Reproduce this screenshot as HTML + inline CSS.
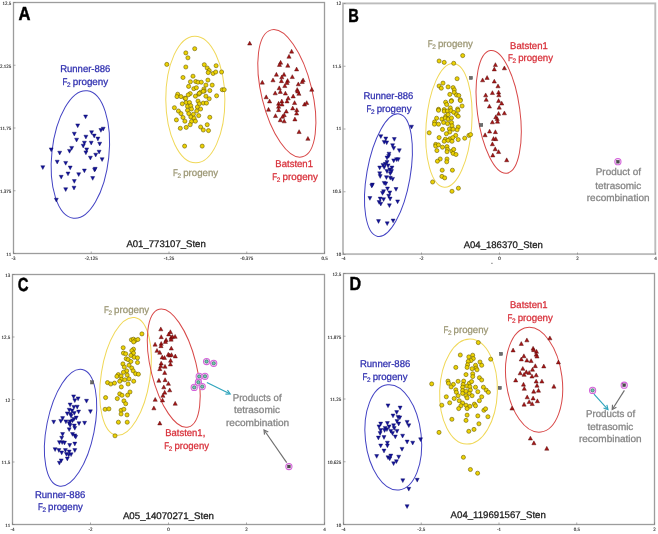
<!DOCTYPE html>
<html><head><meta charset="utf-8"><style>
html,body{margin:0;padding:0;background:#fff;}
svg{display:block;will-change:transform;}
text{text-rendering:geometricPrecision;}
</style></head><body>
<svg width="658" height="534" viewBox="0 0 658 534">
<rect width="658" height="534" fill="#fff"/>
<rect x="13.5" y="2.5" width="311" height="251" fill="none" stroke="#9c9c9c" stroke-width="1.3"/>
<rect x="343.0" y="3.4" width="312.3" height="250.7" fill="none" stroke="#bcbcbc" stroke-width="1.9"/>
<rect x="12.5" y="274.5" width="312" height="250" fill="none" stroke="#9c9c9c" stroke-width="1.3"/>
<rect x="343.5" y="273.5" width="311" height="251" fill="none" stroke="#9c9c9c" stroke-width="1.3"/>
<line x1="13.50" y1="253.5" x2="13.50" y2="251.5" stroke="#777" stroke-width="0.6"/>
<text x="13.50" y="260.10" font-family="Liberation Serif, serif" font-size="5.0" fill="#333" stroke="#333" stroke-width="0.15" text-anchor="middle">-3</text>
<line x1="91.25" y1="253.5" x2="91.25" y2="251.5" stroke="#777" stroke-width="0.6"/>
<text x="91.25" y="260.10" font-family="Liberation Serif, serif" font-size="5.0" fill="#333" stroke="#333" stroke-width="0.15" text-anchor="middle">-2.125</text>
<line x1="169.00" y1="253.5" x2="169.00" y2="251.5" stroke="#777" stroke-width="0.6"/>
<text x="169.00" y="260.10" font-family="Liberation Serif, serif" font-size="5.0" fill="#333" stroke="#333" stroke-width="0.15" text-anchor="middle">-1.25</text>
<line x1="246.75" y1="253.5" x2="246.75" y2="251.5" stroke="#777" stroke-width="0.6"/>
<text x="246.75" y="260.10" font-family="Liberation Serif, serif" font-size="5.0" fill="#333" stroke="#333" stroke-width="0.15" text-anchor="middle">-0.375</text>
<line x1="324.50" y1="253.5" x2="324.50" y2="251.5" stroke="#777" stroke-width="0.6"/>
<text x="324.50" y="260.10" font-family="Liberation Serif, serif" font-size="5.0" fill="#333" stroke="#333" stroke-width="0.15" text-anchor="middle">0.5</text>
<line x1="13.5" y1="2.50" x2="15.5" y2="2.50" stroke="#777" stroke-width="0.6"/>
<text x="11.2" y="4.80" font-family="Liberation Serif, serif" font-size="5.0" fill="#333" stroke="#333" stroke-width="0.15" text-anchor="end">12.5</text>
<line x1="13.5" y1="65.25" x2="15.5" y2="65.25" stroke="#777" stroke-width="0.6"/>
<text x="11.2" y="67.55" font-family="Liberation Serif, serif" font-size="5.0" fill="#333" stroke="#333" stroke-width="0.15" text-anchor="end">12.125</text>
<line x1="13.5" y1="128.00" x2="15.5" y2="128.00" stroke="#777" stroke-width="0.6"/>
<text x="11.2" y="130.30" font-family="Liberation Serif, serif" font-size="5.0" fill="#333" stroke="#333" stroke-width="0.15" text-anchor="end">11.75</text>
<line x1="13.5" y1="190.75" x2="15.5" y2="190.75" stroke="#777" stroke-width="0.6"/>
<text x="11.2" y="193.05" font-family="Liberation Serif, serif" font-size="5.0" fill="#333" stroke="#333" stroke-width="0.15" text-anchor="end">11.375</text>
<line x1="13.5" y1="253.50" x2="15.5" y2="253.50" stroke="#777" stroke-width="0.6"/>
<text x="11.2" y="255.80" font-family="Liberation Serif, serif" font-size="5.0" fill="#333" stroke="#333" stroke-width="0.15" text-anchor="end">11</text>
<line x1="343.50" y1="254.5" x2="343.50" y2="252.5" stroke="#777" stroke-width="0.6"/>
<text x="343.50" y="260.20" font-family="Liberation Serif, serif" font-size="5.0" fill="#333" stroke="#333" stroke-width="0.15" text-anchor="middle">-4</text>
<line x1="421.50" y1="254.5" x2="421.50" y2="252.5" stroke="#777" stroke-width="0.6"/>
<text x="421.50" y="260.20" font-family="Liberation Serif, serif" font-size="5.0" fill="#333" stroke="#333" stroke-width="0.15" text-anchor="middle">-2</text>
<line x1="499.50" y1="254.5" x2="499.50" y2="252.5" stroke="#777" stroke-width="0.6"/>
<text x="499.50" y="260.20" font-family="Liberation Serif, serif" font-size="5.0" fill="#333" stroke="#333" stroke-width="0.15" text-anchor="middle">0</text>
<line x1="577.50" y1="254.5" x2="577.50" y2="252.5" stroke="#777" stroke-width="0.6"/>
<text x="577.50" y="260.20" font-family="Liberation Serif, serif" font-size="5.0" fill="#333" stroke="#333" stroke-width="0.15" text-anchor="middle">2</text>
<line x1="655.50" y1="254.5" x2="655.50" y2="252.5" stroke="#777" stroke-width="0.6"/>
<text x="655.50" y="260.20" font-family="Liberation Serif, serif" font-size="5.0" fill="#333" stroke="#333" stroke-width="0.15" text-anchor="middle">4</text>
<line x1="343.5" y1="3.50" x2="345.5" y2="3.50" stroke="#777" stroke-width="0.6"/>
<text x="341.2" y="4.90" font-family="Liberation Serif, serif" font-size="5.0" fill="#333" stroke="#333" stroke-width="0.15" text-anchor="end">12</text>
<line x1="343.5" y1="66.25" x2="345.5" y2="66.25" stroke="#777" stroke-width="0.6"/>
<text x="341.2" y="67.65" font-family="Liberation Serif, serif" font-size="5.0" fill="#333" stroke="#333" stroke-width="0.15" text-anchor="end">11.5</text>
<line x1="343.5" y1="129.00" x2="345.5" y2="129.00" stroke="#777" stroke-width="0.6"/>
<text x="341.2" y="130.40" font-family="Liberation Serif, serif" font-size="5.0" fill="#333" stroke="#333" stroke-width="0.15" text-anchor="end">11</text>
<line x1="343.5" y1="191.75" x2="345.5" y2="191.75" stroke="#777" stroke-width="0.6"/>
<text x="341.2" y="193.15" font-family="Liberation Serif, serif" font-size="5.0" fill="#333" stroke="#333" stroke-width="0.15" text-anchor="end">10.5</text>
<line x1="343.5" y1="254.50" x2="345.5" y2="254.50" stroke="#777" stroke-width="0.6"/>
<text x="341.2" y="255.90" font-family="Liberation Serif, serif" font-size="5.0" fill="#333" stroke="#333" stroke-width="0.15" text-anchor="end">10</text>
<line x1="12.50" y1="524.5" x2="12.50" y2="522.5" stroke="#777" stroke-width="0.6"/>
<text x="12.50" y="531.10" font-family="Liberation Serif, serif" font-size="5.0" fill="#333" stroke="#333" stroke-width="0.15" text-anchor="middle">-4</text>
<line x1="90.50" y1="524.5" x2="90.50" y2="522.5" stroke="#777" stroke-width="0.6"/>
<text x="90.50" y="531.10" font-family="Liberation Serif, serif" font-size="5.0" fill="#333" stroke="#333" stroke-width="0.15" text-anchor="middle">-2</text>
<line x1="168.50" y1="524.5" x2="168.50" y2="522.5" stroke="#777" stroke-width="0.6"/>
<text x="168.50" y="531.10" font-family="Liberation Serif, serif" font-size="5.0" fill="#333" stroke="#333" stroke-width="0.15" text-anchor="middle">0</text>
<line x1="246.50" y1="524.5" x2="246.50" y2="522.5" stroke="#777" stroke-width="0.6"/>
<text x="246.50" y="531.10" font-family="Liberation Serif, serif" font-size="5.0" fill="#333" stroke="#333" stroke-width="0.15" text-anchor="middle">2</text>
<line x1="324.50" y1="524.5" x2="324.50" y2="522.5" stroke="#777" stroke-width="0.6"/>
<text x="324.50" y="531.10" font-family="Liberation Serif, serif" font-size="5.0" fill="#333" stroke="#333" stroke-width="0.15" text-anchor="middle">4</text>
<line x1="12.5" y1="274.50" x2="14.5" y2="274.50" stroke="#777" stroke-width="0.6"/>
<text x="10.2" y="276.80" font-family="Liberation Serif, serif" font-size="5.0" fill="#333" stroke="#333" stroke-width="0.15" text-anchor="end">13</text>
<line x1="12.5" y1="337.00" x2="14.5" y2="337.00" stroke="#777" stroke-width="0.6"/>
<text x="10.2" y="339.30" font-family="Liberation Serif, serif" font-size="5.0" fill="#333" stroke="#333" stroke-width="0.15" text-anchor="end">12.5</text>
<line x1="12.5" y1="399.50" x2="14.5" y2="399.50" stroke="#777" stroke-width="0.6"/>
<text x="10.2" y="401.80" font-family="Liberation Serif, serif" font-size="5.0" fill="#333" stroke="#333" stroke-width="0.15" text-anchor="end">12</text>
<line x1="12.5" y1="462.00" x2="14.5" y2="462.00" stroke="#777" stroke-width="0.6"/>
<text x="10.2" y="464.30" font-family="Liberation Serif, serif" font-size="5.0" fill="#333" stroke="#333" stroke-width="0.15" text-anchor="end">11.5</text>
<line x1="12.5" y1="524.50" x2="14.5" y2="524.50" stroke="#777" stroke-width="0.6"/>
<text x="10.2" y="526.80" font-family="Liberation Serif, serif" font-size="5.0" fill="#333" stroke="#333" stroke-width="0.15" text-anchor="end">11</text>
<line x1="343.50" y1="524.5" x2="343.50" y2="522.5" stroke="#777" stroke-width="0.6"/>
<text x="343.50" y="531.10" font-family="Liberation Serif, serif" font-size="5.0" fill="#333" stroke="#333" stroke-width="0.15" text-anchor="middle">-4</text>
<line x1="421.25" y1="524.5" x2="421.25" y2="522.5" stroke="#777" stroke-width="0.6"/>
<text x="421.25" y="531.10" font-family="Liberation Serif, serif" font-size="5.0" fill="#333" stroke="#333" stroke-width="0.15" text-anchor="middle">-2.5</text>
<line x1="499.00" y1="524.5" x2="499.00" y2="522.5" stroke="#777" stroke-width="0.6"/>
<text x="499.00" y="531.10" font-family="Liberation Serif, serif" font-size="5.0" fill="#333" stroke="#333" stroke-width="0.15" text-anchor="middle">-1</text>
<line x1="576.75" y1="524.5" x2="576.75" y2="522.5" stroke="#777" stroke-width="0.6"/>
<text x="576.75" y="531.10" font-family="Liberation Serif, serif" font-size="5.0" fill="#333" stroke="#333" stroke-width="0.15" text-anchor="middle">0.5</text>
<line x1="654.50" y1="524.5" x2="654.50" y2="522.5" stroke="#777" stroke-width="0.6"/>
<text x="654.50" y="531.10" font-family="Liberation Serif, serif" font-size="5.0" fill="#333" stroke="#333" stroke-width="0.15" text-anchor="middle">2</text>
<line x1="343.5" y1="273.50" x2="345.5" y2="273.50" stroke="#777" stroke-width="0.6"/>
<text x="341.2" y="275.80" font-family="Liberation Serif, serif" font-size="5.0" fill="#333" stroke="#333" stroke-width="0.15" text-anchor="end">12.5</text>
<line x1="343.5" y1="336.25" x2="345.5" y2="336.25" stroke="#777" stroke-width="0.6"/>
<text x="341.2" y="338.55" font-family="Liberation Serif, serif" font-size="5.0" fill="#333" stroke="#333" stroke-width="0.15" text-anchor="end">11.875</text>
<line x1="343.5" y1="399.00" x2="345.5" y2="399.00" stroke="#777" stroke-width="0.6"/>
<text x="341.2" y="401.30" font-family="Liberation Serif, serif" font-size="5.0" fill="#333" stroke="#333" stroke-width="0.15" text-anchor="end">11.25</text>
<line x1="343.5" y1="461.75" x2="345.5" y2="461.75" stroke="#777" stroke-width="0.6"/>
<text x="341.2" y="464.05" font-family="Liberation Serif, serif" font-size="5.0" fill="#333" stroke="#333" stroke-width="0.15" text-anchor="end">10.625</text>
<line x1="343.5" y1="524.50" x2="345.5" y2="524.50" stroke="#777" stroke-width="0.6"/>
<text x="341.2" y="526.80" font-family="Liberation Serif, serif" font-size="5.0" fill="#333" stroke="#333" stroke-width="0.15" text-anchor="end">10</text>
<line x1="491" y1="263.3" x2="492.8" y2="263.3" stroke="#777" stroke-width="0.8"/>
<ellipse cx="80.35" cy="154.55" rx="64.05" ry="28.54" transform="rotate(-83.84 80.35 154.55)" fill="none" stroke="#4343c4" stroke-width="1.0"/>
<ellipse cx="195.33" cy="99.50" rx="63.30" ry="29.55" transform="rotate(-90.46 195.33 99.50)" fill="none" stroke="#f0d858" stroke-width="1.0"/>
<ellipse cx="286.85" cy="93.35" rx="65.34" ry="25.27" transform="rotate(-103.75 286.85 93.35)" fill="none" stroke="#d84848" stroke-width="1.0"/>
<ellipse cx="388.45" cy="175.15" rx="62.18" ry="21.71" transform="rotate(-80.01 388.45 175.15)" fill="none" stroke="#4343c4" stroke-width="1.0"/>
<ellipse cx="448.90" cy="125.30" rx="62.05" ry="22.80" transform="rotate(-85.72 448.90 125.30)" fill="none" stroke="#f0d858" stroke-width="1.0"/>
<ellipse cx="498.67" cy="111.85" rx="61.83" ry="21.24" transform="rotate(-97.65 498.67 111.85)" fill="none" stroke="#d84848" stroke-width="1.0"/>
<ellipse cx="70.55" cy="427.70" rx="59.47" ry="23.87" transform="rotate(-78.69 70.55 427.70)" fill="none" stroke="#4343c4" stroke-width="1.0"/>
<ellipse cx="125.55" cy="376.35" rx="59.54" ry="24.41" transform="rotate(-81.16 125.55 376.35)" fill="none" stroke="#f0d858" stroke-width="1.0"/>
<ellipse cx="173.75" cy="368.15" rx="60.67" ry="22.75" transform="rotate(-103.88 173.75 368.15)" fill="none" stroke="#d84848" stroke-width="1.0"/>
<ellipse cx="393.27" cy="437.35" rx="52.88" ry="27.97" transform="rotate(-96.27 393.27 437.35)" fill="none" stroke="#4343c4" stroke-width="1.0"/>
<ellipse cx="468.52" cy="391.55" rx="52.57" ry="28.85" transform="rotate(-87.89 468.52 391.55)" fill="none" stroke="#f0d858" stroke-width="1.0"/>
<ellipse cx="534.10" cy="379.75" rx="52.77" ry="28.01" transform="rotate(-97.45 534.10 379.75)" fill="none" stroke="#d84848" stroke-width="1.0"/>
<g fill="#ecd204" stroke="#6a5c00" stroke-width="0.6"><circle cx="141.9" cy="333.9" r="2.05"/><circle cx="131.4" cy="339.8" r="2.05"/><circle cx="133.5" cy="339.2" r="2.05"/><circle cx="135.4" cy="340.4" r="2.05"/><circle cx="137.9" cy="339.5" r="2.05"/><circle cx="133.7" cy="341.9" r="2.05"/><circle cx="123.2" cy="347.7" r="2.05"/><circle cx="133.5" cy="349.2" r="2.05"/><circle cx="131.8" cy="350.7" r="2.05"/><circle cx="123.4" cy="353.1" r="2.05"/><circle cx="125.7" cy="353.8" r="2.05"/><circle cx="133.5" cy="353.1" r="2.05"/><circle cx="130.9" cy="355.4" r="2.05"/><circle cx="134.2" cy="357.3" r="2.05"/><circle cx="137.5" cy="357.8" r="2.05"/><circle cx="126.2" cy="358.7" r="2.05"/><circle cx="128.1" cy="359.6" r="2.05"/><circle cx="137.5" cy="362.5" r="2.05"/><circle cx="130.9" cy="361.5" r="2.05"/><circle cx="122.9" cy="363.9" r="2.05"/><circle cx="129" cy="365.3" r="2.05"/><circle cx="124.3" cy="367.1" r="2.05"/><circle cx="131.8" cy="368.1" r="2.05"/><circle cx="126.7" cy="370.9" r="2.05"/><circle cx="133.2" cy="370.9" r="2.05"/><circle cx="123.4" cy="372.3" r="2.05"/><circle cx="118.3" cy="374.6" r="2.05"/><circle cx="135.6" cy="373.7" r="2.05"/><circle cx="138.4" cy="374.2" r="2.05"/><circle cx="116.9" cy="376.4" r="2.05"/><circle cx="121.1" cy="376.1" r="2.05"/><circle cx="127.2" cy="375.1" r="2.05"/><circle cx="121.5" cy="379.4" r="2.05"/><circle cx="124.8" cy="379.8" r="2.05"/><circle cx="129" cy="378.9" r="2.05"/><circle cx="119.7" cy="381.2" r="2.05"/><circle cx="133.7" cy="381.2" r="2.05"/><circle cx="107.5" cy="382.6" r="2.05"/><circle cx="110.8" cy="384" r="2.05"/><circle cx="114.5" cy="383.1" r="2.05"/><circle cx="128.1" cy="384" r="2.05"/><circle cx="121.3" cy="386.9" r="2.05"/><circle cx="119.7" cy="393.9" r="2.05"/><circle cx="122" cy="395.3" r="2.05"/><circle cx="130" cy="392" r="2.05"/><circle cx="127.6" cy="395.1" r="2.05"/><circle cx="105.6" cy="397.6" r="2.05"/><circle cx="117.3" cy="398.6" r="2.05"/><circle cx="123.9" cy="400.9" r="2.05"/><circle cx="125.7" cy="403.7" r="2.05"/><circle cx="105.1" cy="409.3" r="2.05"/><circle cx="108.9" cy="408.9" r="2.05"/><circle cx="121.1" cy="410.3" r="2.05"/><circle cx="123.9" cy="409.3" r="2.05"/><circle cx="121.1" cy="414" r="2.05"/><circle cx="127" cy="414.9" r="2.05"/><circle cx="118.4" cy="422.2" r="2.05"/><circle cx="127.2" cy="422.2" r="2.05"/><circle cx="115" cy="435.8" r="2.05"/></g>
<g fill="#ecd204" stroke="#6a5c00" stroke-width="0.6"><circle cx="194.7" cy="48.7" r="2.05"/><circle cx="185.8" cy="52.9" r="2.05"/><circle cx="187.9" cy="57.8" r="2.05"/><circle cx="166.8" cy="64.4" r="2.05"/><circle cx="185.8" cy="67" r="2.05"/><circle cx="204.3" cy="64.7" r="2.05"/><circle cx="207.2" cy="68" r="2.05"/><circle cx="209.2" cy="70.6" r="2.05"/><circle cx="208.2" cy="72.6" r="2.05"/><circle cx="213.1" cy="73.5" r="2.05"/><circle cx="215.7" cy="72" r="2.05"/><circle cx="216.1" cy="65.7" r="2.05"/><circle cx="221.6" cy="72" r="2.05"/><circle cx="183" cy="77.5" r="2.05"/><circle cx="193" cy="76.2" r="2.05"/><circle cx="207.9" cy="80.1" r="2.05"/><circle cx="190.4" cy="81.8" r="2.05"/><circle cx="195.7" cy="81.5" r="2.05"/><circle cx="198" cy="82.2" r="2.05"/><circle cx="201.3" cy="82.2" r="2.05"/><circle cx="205.9" cy="85.1" r="2.05"/><circle cx="212.2" cy="85.1" r="2.05"/><circle cx="188.6" cy="86.4" r="2.05"/><circle cx="193.8" cy="88.7" r="2.05"/><circle cx="196.4" cy="87.7" r="2.05"/><circle cx="203.9" cy="89" r="2.05"/><circle cx="204.3" cy="91" r="2.05"/><circle cx="209.8" cy="90.6" r="2.05"/><circle cx="222.3" cy="89.7" r="2.05"/><circle cx="224.2" cy="89.7" r="2.05"/><circle cx="200.6" cy="92.3" r="2.05"/><circle cx="198.7" cy="94.2" r="2.05"/><circle cx="190.2" cy="93.6" r="2.05"/><circle cx="188.2" cy="94.9" r="2.05"/><circle cx="177.7" cy="94.2" r="2.05"/><circle cx="177" cy="96.6" r="2.05"/><circle cx="181" cy="96.6" r="2.05"/><circle cx="184.9" cy="98.2" r="2.05"/><circle cx="195.4" cy="96.2" r="2.05"/><circle cx="205.9" cy="96.2" r="2.05"/><circle cx="216.6" cy="95.8" r="2.05"/><circle cx="209.2" cy="98.8" r="2.05"/><circle cx="185.6" cy="98.5" r="2.05"/><circle cx="199.3" cy="93.3" r="2.05"/><circle cx="203.3" cy="91.3" r="2.05"/><circle cx="182.3" cy="103.8" r="2.05"/><circle cx="186.2" cy="102.5" r="2.05"/><circle cx="189.5" cy="102.5" r="2.05"/><circle cx="187.5" cy="106.4" r="2.05"/><circle cx="190.8" cy="105.7" r="2.05"/><circle cx="191.5" cy="109" r="2.05"/><circle cx="187.5" cy="110.3" r="2.05"/><circle cx="198" cy="101.1" r="2.05"/><circle cx="199.3" cy="103.8" r="2.05"/><circle cx="203.3" cy="103.1" r="2.05"/><circle cx="206.5" cy="103.1" r="2.05"/><circle cx="197.4" cy="107" r="2.05"/><circle cx="200.6" cy="109" r="2.05"/><circle cx="196.7" cy="111" r="2.05"/><circle cx="174.4" cy="107.7" r="2.05"/><circle cx="178.4" cy="111" r="2.05"/><circle cx="181" cy="113.6" r="2.05"/><circle cx="188.8" cy="113.6" r="2.05"/><circle cx="193.4" cy="114.3" r="2.05"/><circle cx="198.7" cy="115.6" r="2.05"/><circle cx="183" cy="117.5" r="2.05"/><circle cx="190.8" cy="116.9" r="2.05"/><circle cx="194.1" cy="118.2" r="2.05"/><circle cx="176.4" cy="119.9" r="2.05"/><circle cx="184.9" cy="121.2" r="2.05"/><circle cx="191.5" cy="121.5" r="2.05"/><circle cx="195.4" cy="121.2" r="2.05"/><circle cx="209.8" cy="117.3" r="2.05"/><circle cx="190.2" cy="124.7" r="2.05"/><circle cx="180.3" cy="128.3" r="2.05"/><circle cx="186.2" cy="127.4" r="2.05"/><circle cx="200.6" cy="127" r="2.05"/><circle cx="203.3" cy="130" r="2.05"/><circle cx="207.2" cy="124.7" r="2.05"/><circle cx="208.5" cy="130.6" r="2.05"/><circle cx="184.6" cy="146.1" r="2.05"/><circle cx="202.2" cy="146.1" r="2.05"/></g>
<g fill="#ecd204" stroke="#6a5c00" stroke-width="0.6"><circle cx="462.7" cy="55.6" r="2.05"/><circle cx="439.1" cy="61" r="2.05"/><circle cx="444.2" cy="62.4" r="2.05"/><circle cx="453.7" cy="63.3" r="2.05"/><circle cx="457.1" cy="78.7" r="2.05"/><circle cx="443" cy="83.1" r="2.05"/><circle cx="439.1" cy="86" r="2.05"/><circle cx="441.3" cy="88.2" r="2.05"/><circle cx="448.1" cy="86.9" r="2.05"/><circle cx="453.1" cy="87.6" r="2.05"/><circle cx="454.3" cy="89.9" r="2.05"/><circle cx="454.3" cy="92.5" r="2.05"/><circle cx="456.5" cy="95" r="2.05"/><circle cx="458.8" cy="95.5" r="2.05"/><circle cx="449.8" cy="94.4" r="2.05"/><circle cx="460.2" cy="99.7" r="2.05"/><circle cx="451.5" cy="100.6" r="2.05"/><circle cx="445.6" cy="102.2" r="2.05"/><circle cx="446.7" cy="104.5" r="2.05"/><circle cx="462.1" cy="106" r="2.05"/><circle cx="450.3" cy="107.9" r="2.05"/><circle cx="438.5" cy="109.3" r="2.05"/><circle cx="457.6" cy="109" r="2.05"/><circle cx="444.2" cy="109.6" r="2.05"/><circle cx="451.2" cy="101.3" r="2.05"/><circle cx="460.4" cy="100.6" r="2.05"/><circle cx="438.5" cy="110.3" r="2.05"/><circle cx="444.2" cy="111.2" r="2.05"/><circle cx="447.5" cy="111" r="2.05"/><circle cx="450.9" cy="110.7" r="2.05"/><circle cx="453.7" cy="112.4" r="2.05"/><circle cx="458" cy="110.3" r="2.05"/><circle cx="456.5" cy="114.6" r="2.05"/><circle cx="458.2" cy="116.3" r="2.05"/><circle cx="445.8" cy="116.3" r="2.05"/><circle cx="448.1" cy="114.6" r="2.05"/><circle cx="436.6" cy="118.2" r="2.05"/><circle cx="441.9" cy="119.1" r="2.05"/><circle cx="445.3" cy="118" r="2.05"/><circle cx="448.1" cy="119.1" r="2.05"/><circle cx="451.5" cy="118" r="2.05"/><circle cx="434.6" cy="121.9" r="2.05"/><circle cx="434.4" cy="124.2" r="2.05"/><circle cx="438.5" cy="124.2" r="2.05"/><circle cx="443.6" cy="122.5" r="2.05"/><circle cx="447.5" cy="123.6" r="2.05"/><circle cx="451.5" cy="122.5" r="2.05"/><circle cx="452" cy="125.8" r="2.05"/><circle cx="458.2" cy="127" r="2.05"/><circle cx="457.1" cy="129.8" r="2.05"/><circle cx="442.5" cy="129.4" r="2.05"/><circle cx="449.4" cy="129" r="2.05"/><circle cx="453.1" cy="129.2" r="2.05"/><circle cx="449.8" cy="132" r="2.05"/><circle cx="429.2" cy="132.8" r="2.05"/><circle cx="446.4" cy="133.7" r="2.05"/><circle cx="455.7" cy="135.4" r="2.05"/><circle cx="439.1" cy="137.6" r="2.05"/><circle cx="445.3" cy="139.3" r="2.05"/><circle cx="449.8" cy="138.8" r="2.05"/><circle cx="452.8" cy="137.6" r="2.05"/><circle cx="444.2" cy="141.3" r="2.05"/><circle cx="448.1" cy="140.4" r="2.05"/><circle cx="452" cy="141.3" r="2.05"/><circle cx="458.2" cy="139.6" r="2.05"/><circle cx="464.7" cy="138.2" r="2.05"/><circle cx="468.9" cy="135.4" r="2.05"/><circle cx="470.6" cy="134.6" r="2.05"/><circle cx="435.7" cy="144.4" r="2.05"/><circle cx="435.7" cy="146.1" r="2.05"/><circle cx="438.5" cy="144.9" r="2.05"/><circle cx="442.5" cy="147.2" r="2.05"/><circle cx="447" cy="146.6" r="2.05"/><circle cx="447.5" cy="149.4" r="2.05"/><circle cx="436.9" cy="150.6" r="2.05"/><circle cx="452" cy="151.1" r="2.05"/><circle cx="453.7" cy="149.4" r="2.05"/><circle cx="447" cy="151.7" r="2.05"/><circle cx="453.1" cy="153.4" r="2.05"/><circle cx="456" cy="154.5" r="2.05"/><circle cx="440.2" cy="159" r="2.05"/><circle cx="447" cy="159" r="2.05"/><circle cx="437.4" cy="161.2" r="2.05"/><circle cx="446.7" cy="161.8" r="2.05"/><circle cx="442.2" cy="170.2" r="2.05"/><circle cx="452.4" cy="170.2" r="2.05"/><circle cx="441.9" cy="176.4" r="2.05"/><circle cx="444.7" cy="177.9" r="2.05"/><circle cx="432.6" cy="182" r="2.05"/><circle cx="452" cy="191.3" r="2.05"/><circle cx="458.4" cy="188.2" r="2.05"/></g>
<g fill="#ecd204" stroke="#6a5c00" stroke-width="0.6"><circle cx="478.3" cy="342.6" r="2.05"/><circle cx="460.3" cy="355" r="2.05"/><circle cx="468.8" cy="356.9" r="2.05"/><circle cx="472.7" cy="355.2" r="2.05"/><circle cx="473.3" cy="358.6" r="2.05"/><circle cx="471" cy="360.6" r="2.05"/><circle cx="468.2" cy="361.4" r="2.05"/><circle cx="490.7" cy="359.2" r="2.05"/><circle cx="480" cy="362" r="2.05"/><circle cx="481.7" cy="365.3" r="2.05"/><circle cx="467.6" cy="364.8" r="2.05"/><circle cx="467.1" cy="367.4" r="2.05"/><circle cx="475.5" cy="365.3" r="2.05"/><circle cx="476.1" cy="368.1" r="2.05"/><circle cx="472.1" cy="368.7" r="2.05"/><circle cx="477" cy="369.8" r="2.05"/><circle cx="455.8" cy="367.4" r="2.05"/><circle cx="466" cy="374.6" r="2.05"/><circle cx="472.7" cy="373.8" r="2.05"/><circle cx="472.7" cy="376.6" r="2.05"/><circle cx="479.4" cy="377.7" r="2.05"/><circle cx="481.7" cy="380" r="2.05"/><circle cx="431.7" cy="383.9" r="2.05"/><circle cx="448" cy="381.1" r="2.05"/><circle cx="448.5" cy="383.3" r="2.05"/><circle cx="453.4" cy="384.4" r="2.05"/><circle cx="451.1" cy="386.9" r="2.05"/><circle cx="458.1" cy="381.3" r="2.05"/><circle cx="463.7" cy="381.1" r="2.05"/><circle cx="463.1" cy="384.4" r="2.05"/><circle cx="469.3" cy="383.3" r="2.05"/><circle cx="471.6" cy="381.6" r="2.05"/><circle cx="467.1" cy="386.1" r="2.05"/><circle cx="462.6" cy="387.2" r="2.05"/><circle cx="469.9" cy="386.7" r="2.05"/><circle cx="475.5" cy="387.2" r="2.05"/><circle cx="483.4" cy="387.2" r="2.05"/><circle cx="486.2" cy="390.1" r="2.05"/><circle cx="488.4" cy="392.3" r="2.05"/><circle cx="455.8" cy="389.8" r="2.05"/><circle cx="456.4" cy="392.3" r="2.05"/><circle cx="462.6" cy="390.6" r="2.05"/><circle cx="466" cy="391.2" r="2.05"/><circle cx="470.4" cy="390.1" r="2.05"/><circle cx="477.8" cy="391.7" r="2.05"/><circle cx="462.6" cy="393.4" r="2.05"/><circle cx="469.3" cy="393.4" r="2.05"/><circle cx="446.3" cy="396.8" r="2.05"/><circle cx="454.2" cy="398.5" r="2.05"/><circle cx="458.1" cy="395.7" r="2.05"/><circle cx="466" cy="395.7" r="2.05"/><circle cx="472.1" cy="395.7" r="2.05"/><circle cx="467.1" cy="397.9" r="2.05"/><circle cx="481.7" cy="396.8" r="2.05"/><circle cx="479.4" cy="400.7" r="2.05"/><circle cx="449.7" cy="402.8" r="2.05"/><circle cx="459.2" cy="400.7" r="2.05"/><circle cx="462.6" cy="403" r="2.05"/><circle cx="441.8" cy="405.2" r="2.05"/><circle cx="460.9" cy="405.8" r="2.05"/><circle cx="466" cy="405.2" r="2.05"/><circle cx="469.9" cy="406.3" r="2.05"/><circle cx="474.4" cy="404.1" r="2.05"/><circle cx="475.5" cy="405.8" r="2.05"/><circle cx="458.7" cy="408.6" r="2.05"/><circle cx="467.1" cy="408.6" r="2.05"/><circle cx="483.9" cy="410.3" r="2.05"/><circle cx="485.6" cy="408.8" r="2.05"/><circle cx="467.1" cy="415.1" r="2.05"/><circle cx="477.8" cy="415.9" r="2.05"/><circle cx="487.9" cy="416.7" r="2.05"/><circle cx="451.9" cy="419.3" r="2.05"/><circle cx="466" cy="420.4" r="2.05"/><circle cx="478.9" cy="423.8" r="2.05"/><circle cx="468.8" cy="431.3" r="2.05"/><circle cx="474" cy="429.4" r="2.05"/><circle cx="439" cy="432.4" r="2.05"/><circle cx="463.4" cy="457.3" r="2.05"/><circle cx="470.4" cy="469.5" r="2.05"/><circle cx="477.6" cy="473.2" r="2.05"/></g>
<g fill="#13139a" stroke="#0a0a60" stroke-width="0.4"><path d="M83.60,115.00L87.60,115.00L85.60,118.80Z"/><path d="M75.70,123.90L79.70,123.90L77.70,127.70Z"/><path d="M72.30,132.20L76.30,132.20L74.30,136.00Z"/><path d="M74.60,138.20L78.60,138.20L76.60,142.00Z"/><path d="M83.90,135.20L87.90,135.20L85.90,139.00Z"/><path d="M89.60,130.70L93.60,130.70L91.60,134.50Z"/><path d="M92.20,134.10L96.20,134.10L94.20,137.90Z"/><path d="M98.90,128.50L102.90,128.50L100.90,132.30Z"/><path d="M101.20,127.20L105.20,127.20L103.20,131.00Z"/><path d="M95.90,137.10L99.90,137.10L97.90,140.90Z"/><path d="M89.20,141.20L93.20,141.20L91.20,145.00Z"/><path d="M82.40,141.20L86.40,141.20L84.40,145.00Z"/><path d="M81.20,144.20L85.20,144.20L83.20,148.00Z"/><path d="M97.70,142.20L101.70,142.20L99.70,146.00Z"/><path d="M84.70,147.90L88.70,147.90L86.70,151.70Z"/><path d="M83.90,150.90L87.90,150.90L85.90,154.70Z"/><path d="M69.70,146.40L73.70,146.40L71.70,150.20Z"/><path d="M67.50,149.40L71.50,149.40L69.50,153.20Z"/><path d="M57.70,151.20L61.70,151.20L59.70,155.00Z"/><path d="M49.20,147.90L53.20,147.90L51.20,151.70Z"/><path d="M97.10,150.20L101.10,150.20L99.10,154.00Z"/><path d="M93.70,153.20L97.70,153.20L95.70,157.00Z"/><path d="M88.40,156.20L92.40,156.20L90.40,160.00Z"/><path d="M100.10,157.70L104.10,157.70L102.10,161.50Z"/><path d="M55.20,160.20L59.20,160.20L57.20,164.00Z"/><path d="M63.70,161.40L67.70,161.40L65.70,165.20Z"/><path d="M40.80,165.70L44.80,165.70L42.80,169.50Z"/><path d="M68.20,166.00L72.20,166.00L70.20,169.80Z"/><path d="M66.00,172.00L70.00,172.00L68.00,175.80Z"/><path d="M59.20,175.30L63.20,175.30L61.20,179.10Z"/><path d="M76.70,172.70L80.70,172.70L78.70,176.50Z"/><path d="M82.40,169.00L86.40,169.00L84.40,172.80Z"/><path d="M92.60,168.20L96.60,168.20L94.60,172.00Z"/><path d="M93.20,167.30L97.20,167.30L95.20,171.10Z"/><path d="M90.70,176.50L94.70,176.50L92.70,180.30Z"/><path d="M72.30,179.50L76.30,179.50L74.30,183.30Z"/><path d="M63.70,187.70L67.70,187.70L65.70,191.50Z"/><path d="M72.00,186.20L76.00,186.20L74.00,190.00Z"/><path d="M54.30,198.20L58.30,198.20L56.30,202.00Z"/></g>
<g fill="#13139a" stroke="#0a0a60" stroke-width="0.4"><path d="M409.50,125.20L413.50,125.20L411.50,129.00Z"/><path d="M378.80,134.70L382.80,134.70L380.80,138.50Z"/><path d="M383.80,137.00L387.80,137.00L385.80,140.80Z"/><path d="M382.20,140.40L386.20,140.40L384.20,144.20Z"/><path d="M384.70,140.90L388.70,140.90L386.70,144.70Z"/><path d="M392.30,137.50L396.30,137.50L394.30,141.30Z"/><path d="M390.60,143.70L394.60,143.70L392.60,147.50Z"/><path d="M391.70,146.50L395.70,146.50L393.70,150.30Z"/><path d="M397.30,148.80L401.30,148.80L399.30,152.60Z"/><path d="M387.00,152.20L391.00,152.20L389.00,156.00Z"/><path d="M386.70,154.40L390.70,154.40L388.70,158.20Z"/><path d="M385.00,156.10L389.00,156.10L387.00,159.90Z"/><path d="M391.70,158.90L395.70,158.90L393.70,162.70Z"/><path d="M394.50,157.80L398.50,157.80L396.50,161.60Z"/><path d="M396.20,157.80L400.20,157.80L398.20,161.60Z"/><path d="M385.00,160.60L389.00,160.60L387.00,164.40Z"/><path d="M383.30,162.30L387.30,162.30L385.30,166.10Z"/><path d="M381.00,163.40L385.00,163.40L383.00,167.20Z"/><path d="M386.10,163.90L390.10,163.90L388.10,167.70Z"/><path d="M382.20,165.60L386.20,165.60L384.20,169.40Z"/><path d="M390.00,166.00L394.00,166.00L392.00,169.80Z"/><path d="M377.70,166.00L381.70,166.00L379.70,169.80Z"/><path d="M387.80,167.90L391.80,167.90L389.80,171.70Z"/><path d="M389.50,169.60L393.50,169.60L391.50,173.40Z"/><path d="M385.00,169.60L389.00,169.60L387.00,173.40Z"/><path d="M377.70,171.80L381.70,171.80L379.70,175.60Z"/><path d="M388.30,171.80L392.30,171.80L390.30,175.60Z"/><path d="M378.20,174.60L382.20,174.60L380.20,178.40Z"/><path d="M384.40,175.70L388.40,175.70L386.40,179.50Z"/><path d="M388.30,176.30L392.30,176.30L390.30,180.10Z"/><path d="M390.60,177.40L394.60,177.40L392.60,181.20Z"/><path d="M382.20,181.40L386.20,181.40L384.20,185.20Z"/><path d="M383.80,181.90L387.80,181.90L385.80,185.70Z"/><path d="M370.40,183.10L374.40,183.10L372.40,186.90Z"/><path d="M369.80,184.20L373.80,184.20L371.80,188.00Z"/><path d="M385.50,187.00L389.50,187.00L387.50,190.80Z"/><path d="M394.00,187.50L398.00,187.50L396.00,191.30Z"/><path d="M381.60,189.80L385.60,189.80L383.60,193.60Z"/><path d="M380.50,191.50L384.50,191.50L382.50,195.30Z"/><path d="M387.80,190.90L391.80,190.90L389.80,194.70Z"/><path d="M386.70,194.30L390.70,194.30L388.70,198.10Z"/><path d="M388.10,197.10L392.10,197.10L390.10,200.90Z"/><path d="M367.90,196.50L371.90,196.50L369.90,200.30Z"/><path d="M378.20,197.10L382.20,197.10L380.20,200.90Z"/><path d="M381.60,197.70L385.60,197.70L383.60,201.50Z"/><path d="M377.10,200.50L381.10,200.50L379.10,204.30Z"/><path d="M378.80,202.20L382.80,202.20L380.80,206.00Z"/><path d="M387.40,203.80L391.40,203.80L389.40,207.60Z"/><path d="M395.60,199.90L399.60,199.90L397.60,203.70Z"/><path d="M376.50,219.60L380.50,219.60L378.50,223.40Z"/><path d="M385.20,221.80L389.20,221.80L387.20,225.60Z"/><path d="M391.10,219.00L395.10,219.00L393.10,222.80Z"/></g>
<g fill="#13139a" stroke="#0a0a60" stroke-width="0.4"><path d="M71.60,394.90L75.60,394.90L73.60,398.70Z"/><path d="M76.10,396.90L80.10,396.90L78.10,400.70Z"/><path d="M72.80,398.80L76.80,398.80L74.80,402.60Z"/><path d="M84.50,399.30L88.50,399.30L86.50,403.10Z"/><path d="M68.10,403.00L72.10,403.00L70.10,406.80Z"/><path d="M71.90,405.40L75.90,405.40L73.90,409.20Z"/><path d="M75.20,405.20L79.20,405.20L77.20,409.00Z"/><path d="M67.20,408.20L71.20,408.20L69.20,412.00Z"/><path d="M70.00,409.10L74.00,409.10L72.00,412.90Z"/><path d="M76.60,410.00L80.60,410.00L78.60,413.80Z"/><path d="M88.40,409.80L92.40,409.80L90.40,413.60Z"/><path d="M65.30,411.90L69.30,411.90L67.30,415.70Z"/><path d="M68.60,412.40L72.60,412.40L70.60,416.20Z"/><path d="M72.30,411.40L76.30,411.40L74.30,415.20Z"/><path d="M69.10,414.20L73.10,414.20L71.10,418.00Z"/><path d="M74.20,416.10L78.20,416.10L76.20,419.90Z"/><path d="M71.90,417.50L75.90,417.50L73.90,421.30Z"/><path d="M60.60,416.60L64.60,416.60L62.60,420.40Z"/><path d="M58.80,419.40L62.80,419.40L60.80,423.20Z"/><path d="M51.70,420.30L55.70,420.30L53.70,424.10Z"/><path d="M63.90,419.90L67.90,419.90L65.90,423.70Z"/><path d="M68.10,419.90L72.10,419.90L70.10,423.70Z"/><path d="M70.50,418.90L74.50,418.90L72.50,422.70Z"/><path d="M67.20,421.70L71.20,421.70L69.20,425.50Z"/><path d="M68.10,423.60L72.10,423.60L70.10,427.40Z"/><path d="M77.00,421.70L81.00,421.70L79.00,425.50Z"/><path d="M82.60,421.30L86.60,421.30L84.60,425.10Z"/><path d="M72.30,424.10L76.30,424.10L74.30,427.90Z"/><path d="M72.80,426.40L76.80,426.40L74.80,430.20Z"/><path d="M67.20,427.80L71.20,427.80L69.20,431.60Z"/><path d="M60.60,432.50L64.60,432.50L62.60,436.30Z"/><path d="M70.50,432.50L74.50,432.50L72.50,436.30Z"/><path d="M72.80,433.90L76.80,433.90L74.80,437.70Z"/><path d="M73.70,435.30L77.70,435.30L75.70,439.10Z"/><path d="M59.70,436.30L63.70,436.30L61.70,440.10Z"/><path d="M57.40,440.70L61.40,440.70L59.40,444.50Z"/><path d="M60.20,440.70L64.20,440.70L62.20,444.50Z"/><path d="M62.50,441.10L66.50,441.10L64.50,444.90Z"/><path d="M67.70,443.50L71.70,443.50L69.70,447.30Z"/><path d="M72.80,442.10L76.80,442.10L74.80,445.90Z"/><path d="M53.10,447.70L57.10,447.70L55.10,451.50Z"/><path d="M56.90,448.60L60.90,448.60L58.90,452.40Z"/><path d="M59.70,451.00L63.70,451.00L61.70,454.80Z"/><path d="M63.40,448.60L67.40,448.60L65.40,452.40Z"/><path d="M67.20,450.00L71.20,450.00L69.20,453.80Z"/><path d="M64.40,452.40L68.40,452.40L66.40,456.20Z"/><path d="M66.70,453.30L70.70,453.30L68.70,457.10Z"/><path d="M69.10,452.80L73.10,452.80L71.10,456.60Z"/><path d="M72.80,448.60L76.80,448.60L74.80,452.40Z"/><path d="M65.30,457.10L69.30,457.10L67.30,460.90Z"/><path d="M59.20,458.90L63.20,458.90L61.20,462.70Z"/><path d="M57.40,461.30L61.40,461.30L59.40,465.10Z"/></g>
<g fill="#13139a" stroke="#0a0a60" stroke-width="0.4"><path d="M386.00,403.90L390.00,403.90L388.00,407.70Z"/><path d="M398.10,406.10L402.10,406.10L400.10,409.90Z"/><path d="M394.70,410.60L398.70,410.60L396.70,414.40Z"/><path d="M391.00,414.00L395.00,414.00L393.00,417.80Z"/><path d="M396.10,415.40L400.10,415.40L398.10,419.20Z"/><path d="M397.80,415.90L401.80,415.90L399.80,419.70Z"/><path d="M395.00,419.60L399.00,419.60L397.00,423.40Z"/><path d="M396.70,422.10L400.70,422.10L398.70,425.90Z"/><path d="M405.10,420.40L409.10,420.40L407.10,424.20Z"/><path d="M406.80,423.80L410.80,423.80L408.80,427.60Z"/><path d="M378.70,422.10L382.70,422.10L380.70,425.90Z"/><path d="M377.00,424.90L381.00,424.90L379.00,428.70Z"/><path d="M385.40,421.50L389.40,421.50L387.40,425.30Z"/><path d="M387.10,424.90L391.10,424.90L389.10,428.70Z"/><path d="M383.20,426.40L387.20,426.40L385.20,430.20Z"/><path d="M384.90,427.70L388.90,427.70L386.90,431.50Z"/><path d="M391.60,423.80L395.60,423.80L393.60,427.60Z"/><path d="M392.20,426.60L396.20,426.60L394.20,430.40Z"/><path d="M395.00,429.40L399.00,429.40L397.00,433.20Z"/><path d="M378.70,428.60L382.70,428.60L380.70,432.40Z"/><path d="M382.60,428.60L386.60,428.60L384.60,432.40Z"/><path d="M388.80,429.40L392.80,429.40L390.80,433.20Z"/><path d="M378.10,431.60L382.10,431.60L380.10,435.40Z"/><path d="M390.50,431.60L394.50,431.60L392.50,435.40Z"/><path d="M393.30,435.00L397.30,435.00L395.30,438.80Z"/><path d="M376.40,436.10L380.40,436.10L378.40,439.90Z"/><path d="M382.00,435.60L386.00,435.60L384.00,439.40Z"/><path d="M400.60,434.20L404.60,434.20L402.60,438.00Z"/><path d="M405.10,440.10L409.10,440.10L407.10,443.90Z"/><path d="M410.70,441.20L414.70,441.20L412.70,445.00Z"/><path d="M418.60,437.80L422.60,437.80L420.60,441.60Z"/><path d="M385.40,441.20L389.40,441.20L387.40,445.00Z"/><path d="M385.40,444.00L389.40,444.00L387.40,447.80Z"/><path d="M378.70,444.00L382.70,444.00L380.70,447.80Z"/><path d="M382.00,449.10L386.00,449.10L384.00,452.90Z"/><path d="M400.00,447.40L404.00,447.40L402.00,451.20Z"/><path d="M374.70,454.50L378.70,454.50L376.70,458.30Z"/><path d="M386.00,455.80L390.00,455.80L388.00,459.60Z"/><path d="M388.80,454.10L392.80,454.10L390.80,457.90Z"/><path d="M396.70,455.20L400.70,455.20L398.70,459.00Z"/><path d="M387.70,456.90L391.70,456.90L389.70,460.70Z"/><path d="M394.40,459.70L398.40,459.70L396.40,463.50Z"/><path d="M391.60,461.80L395.60,461.80L393.60,465.60Z"/><path d="M400.80,478.80L404.80,478.80L402.80,482.60Z"/><path d="M415.20,478.30L419.20,478.30L417.20,482.10Z"/><path d="M406.80,487.30L410.80,487.30L408.80,491.10Z"/><path d="M405.10,504.70L409.10,504.70L407.10,508.50Z"/></g>
<g fill="#a51818" stroke="#4a0000" stroke-width="0.4"><path d="M247.60,45.05L251.80,45.05L249.70,41.15Z"/><path d="M289.50,53.15L293.70,53.15L291.60,49.25Z"/><path d="M286.90,58.25L291.10,58.25L289.00,54.35Z"/><path d="M278.50,64.25L282.70,64.25L280.60,60.35Z"/><path d="M277.40,66.45L281.60,66.45L279.50,62.55Z"/><path d="M285.70,67.25L289.90,67.25L287.80,63.35Z"/><path d="M294.50,70.95L298.70,70.95L296.60,67.05Z"/><path d="M274.30,76.25L278.50,76.25L276.40,72.35Z"/><path d="M281.90,76.25L286.10,76.25L284.00,72.35Z"/><path d="M279.70,78.85L283.90,78.85L281.80,74.95Z"/><path d="M290.20,78.55L294.40,78.55L292.30,74.65Z"/><path d="M270.90,81.85L275.10,81.85L273.00,77.95Z"/><path d="M279.30,82.65L283.50,82.65L281.40,78.75Z"/><path d="M285.50,82.45L289.70,82.45L287.60,78.55Z"/><path d="M284.90,84.45L289.10,84.45L287.00,80.55Z"/><path d="M301.00,81.85L305.20,81.85L303.10,77.95Z"/><path d="M300.10,83.55L304.30,83.55L302.20,79.65Z"/><path d="M260.20,84.15L264.40,84.15L262.30,80.25Z"/><path d="M296.20,85.85L300.40,85.85L298.30,81.95Z"/><path d="M282.70,87.55L286.90,87.55L284.80,83.65Z"/><path d="M277.10,89.75L281.30,89.75L279.20,85.85Z"/><path d="M278.20,93.45L282.40,93.45L280.30,89.55Z"/><path d="M295.10,91.45L299.30,91.45L297.20,87.55Z"/><path d="M296.80,95.35L301.00,95.35L298.90,91.45Z"/><path d="M309.70,91.25L313.90,91.25L311.80,87.35Z"/><path d="M273.10,94.85L277.30,94.85L275.20,90.95Z"/><path d="M283.30,95.05L287.50,95.05L285.40,91.15Z"/><path d="M291.10,97.95L295.30,97.95L293.20,94.05Z"/><path d="M264.10,98.75L268.30,98.75L266.20,94.85Z"/><path d="M286.10,99.85L290.30,99.85L288.20,95.95Z"/><path d="M295.60,93.05L299.80,93.05L297.70,89.15Z"/><path d="M267.50,102.95L271.70,102.95L269.60,99.05Z"/><path d="M284.90,102.95L289.10,102.95L287.00,99.05Z"/><path d="M276.50,105.25L280.70,105.25L278.60,101.35Z"/><path d="M279.70,102.95L283.90,102.95L281.80,99.05Z"/><path d="M279.90,106.05L284.10,106.05L282.00,102.15Z"/><path d="M276.50,108.25L280.70,108.25L278.60,104.35Z"/><path d="M276.50,111.65L280.70,111.65L278.60,107.75Z"/><path d="M266.40,111.25L270.60,111.25L268.50,107.35Z"/><path d="M292.50,104.55L296.70,104.55L294.60,100.65Z"/><path d="M302.40,106.05L306.60,106.05L304.50,102.15Z"/><path d="M304.60,104.55L308.80,104.55L306.70,100.65Z"/><path d="M290.60,109.95L294.80,109.95L292.70,106.05Z"/><path d="M294.70,111.65L298.90,111.65L296.80,107.75Z"/><path d="M294.50,115.05L298.70,115.05L296.60,111.15Z"/><path d="M284.20,113.05L288.40,113.05L286.30,109.15Z"/><path d="M282.10,116.65L286.30,116.65L284.20,112.75Z"/><path d="M280.50,118.35L284.70,118.35L282.60,114.45Z"/><path d="M273.40,117.55L277.60,117.55L275.50,113.65Z"/><path d="M278.20,121.75L282.40,121.75L280.30,117.85Z"/><path d="M282.10,122.85L286.30,122.85L284.20,118.95Z"/><path d="M292.80,120.95L297.00,120.95L294.90,117.05Z"/><path d="M297.00,133.55L301.20,133.55L299.10,129.65Z"/><path d="M305.80,140.35L310.00,140.35L307.90,136.45Z"/></g>
<g fill="#a51818" stroke="#4a0000" stroke-width="0.4"><path d="M493.30,66.55L497.50,66.55L495.40,62.65Z"/><path d="M492.20,70.95L496.40,70.95L494.30,67.05Z"/><path d="M502.30,69.85L506.50,69.85L504.40,65.95Z"/><path d="M485.00,79.45L489.20,79.45L487.10,75.55Z"/><path d="M480.50,81.85L484.70,81.85L482.60,77.95Z"/><path d="M492.20,83.05L496.40,83.05L494.30,79.15Z"/><path d="M495.90,87.85L500.10,87.85L498.00,83.95Z"/><path d="M490.30,94.55L494.50,94.55L492.40,90.65Z"/><path d="M496.50,94.05L500.70,94.05L498.60,90.15Z"/><path d="M496.70,96.85L500.90,96.85L498.80,92.95Z"/><path d="M483.60,96.85L487.80,96.85L485.70,92.95Z"/><path d="M484.10,101.35L488.30,101.35L486.20,97.45Z"/><path d="M496.50,102.45L500.70,102.45L498.60,98.55Z"/><path d="M499.60,105.05L503.80,105.05L501.70,101.15Z"/><path d="M487.30,108.05L491.50,108.05L489.40,104.15Z"/><path d="M497.10,109.15L501.30,109.15L499.20,105.25Z"/><path d="M496.50,115.35L500.70,115.35L498.60,111.45Z"/><path d="M502.30,114.85L506.50,114.85L504.40,110.95Z"/><path d="M493.70,118.75L497.90,118.75L495.80,114.85Z"/><path d="M495.10,120.45L499.30,120.45L497.20,116.55Z"/><path d="M495.40,123.25L499.60,123.25L497.50,119.35Z"/><path d="M490.30,123.85L494.50,123.85L492.40,119.95Z"/><path d="M487.50,133.05L491.70,133.05L489.60,129.15Z"/><path d="M493.30,133.65L497.50,133.65L495.40,129.75Z"/><path d="M483.00,136.75L487.20,136.75L485.10,132.85Z"/><path d="M491.40,140.45L495.60,140.45L493.50,136.55Z"/><path d="M493.70,140.65L497.90,140.65L495.80,136.75Z"/><path d="M490.30,145.75L494.50,145.75L492.40,141.85Z"/><path d="M493.10,150.75L497.30,150.75L495.20,146.85Z"/><path d="M496.50,153.55L500.70,153.55L498.60,149.65Z"/><path d="M490.70,156.95L494.90,156.95L492.80,153.05Z"/><path d="M504.60,161.75L508.80,161.75L506.70,157.85Z"/></g>
<g fill="#a51818" stroke="#4a0000" stroke-width="0.4"><path d="M158.70,330.85L162.90,330.85L160.80,326.95Z"/><path d="M168.30,333.65L172.50,333.65L170.40,329.75Z"/><path d="M166.60,335.95L170.80,335.95L168.70,332.05Z"/><path d="M159.10,338.65L163.30,338.65L161.20,334.75Z"/><path d="M169.00,339.25L173.20,339.25L171.10,335.35Z"/><path d="M170.40,338.35L174.60,338.35L172.50,334.45Z"/><path d="M173.00,338.35L177.20,338.35L175.10,334.45Z"/><path d="M169.00,341.15L173.20,341.15L171.10,337.25Z"/><path d="M164.00,341.65L168.20,341.65L166.10,337.75Z"/><path d="M163.30,343.45L167.50,343.45L165.40,339.55Z"/><path d="M153.00,346.15L157.20,346.15L155.10,342.25Z"/><path d="M159.10,345.35L163.30,345.35L161.20,341.45Z"/><path d="M158.90,347.65L163.10,347.65L161.00,343.75Z"/><path d="M169.20,350.05L173.40,350.05L171.30,346.15Z"/><path d="M154.90,352.35L159.10,352.35L157.00,348.45Z"/><path d="M157.70,354.25L161.90,354.25L159.80,350.35Z"/><path d="M166.20,356.15L170.40,356.15L168.30,352.25Z"/><path d="M167.60,357.05L171.80,357.05L169.70,353.15Z"/><path d="M169.40,356.55L173.60,356.55L171.50,352.65Z"/><path d="M173.20,357.95L177.40,357.95L175.30,354.05Z"/><path d="M160.10,358.95L164.30,358.95L162.20,355.05Z"/><path d="M162.40,359.45L166.60,359.45L164.50,355.55Z"/><path d="M168.50,362.25L172.70,362.25L170.60,358.35Z"/><path d="M168.30,365.95L172.50,365.95L170.40,362.05Z"/><path d="M159.10,365.05L163.30,365.05L161.20,361.15Z"/><path d="M162.90,368.25L167.10,368.25L165.00,364.35Z"/><path d="M158.70,367.85L162.90,367.85L160.80,363.95Z"/><path d="M157.70,370.65L161.90,370.65L159.80,366.75Z"/><path d="M162.60,374.45L166.80,374.45L164.70,370.55Z"/><path d="M156.80,382.25L161.00,382.25L158.90,378.35Z"/><path d="M163.00,381.65L167.20,381.65L165.10,377.75Z"/><path d="M166.30,385.35L170.50,385.35L168.40,381.45Z"/><path d="M161.70,388.85L165.90,388.85L163.80,384.95Z"/><path d="M167.60,391.85L171.80,391.85L169.70,387.95Z"/><path d="M162.60,394.15L166.80,394.15L164.70,390.25Z"/><path d="M160.80,397.35L165.00,397.35L162.90,393.45Z"/><path d="M153.10,401.35L157.30,401.35L155.20,397.45Z"/><path d="M160.40,401.95L164.60,401.95L162.50,398.05Z"/><path d="M173.10,405.25L177.30,405.25L175.20,401.35Z"/><path d="M151.80,409.85L156.00,409.85L153.90,405.95Z"/><path d="M157.70,424.95L161.90,424.95L159.80,421.05Z"/></g>
<g fill="#a51818" stroke="#4a0000" stroke-width="0.4"><path d="M547.80,339.85L552.00,339.85L549.90,335.95Z"/><path d="M524.80,341.85L529.00,341.85L526.90,337.95Z"/><path d="M519.20,345.45L523.40,345.45L521.30,341.55Z"/><path d="M511.00,351.95L515.20,351.95L513.10,348.05Z"/><path d="M531.00,350.15L535.20,350.15L533.10,346.25Z"/><path d="M531.60,351.65L535.80,351.65L533.70,347.75Z"/><path d="M534.40,353.25L538.60,353.25L536.50,349.35Z"/><path d="M534.10,356.15L538.30,356.15L536.20,352.25Z"/><path d="M534.90,358.05L539.10,358.05L537.00,354.15Z"/><path d="M521.80,357.75L526.00,357.75L523.90,353.85Z"/><path d="M519.20,360.95L523.40,360.95L521.30,357.05Z"/><path d="M524.80,362.05L529.00,362.05L526.90,358.15Z"/><path d="M529.00,362.55L533.20,362.55L531.10,358.65Z"/><path d="M556.30,363.95L560.50,363.95L558.40,360.05Z"/><path d="M533.20,367.65L537.40,367.65L535.30,363.75Z"/><path d="M541.70,367.95L545.90,367.95L543.80,364.05Z"/><path d="M520.70,370.35L524.90,370.35L522.80,366.45Z"/><path d="M530.40,371.25L534.60,371.25L532.50,367.35Z"/><path d="M518.10,374.85L522.30,374.85L520.20,370.95Z"/><path d="M524.20,373.75L528.40,373.75L526.30,369.85Z"/><path d="M527.10,374.45L531.30,374.45L529.20,370.55Z"/><path d="M522.00,376.35L526.20,376.35L524.10,372.45Z"/><path d="M529.90,378.05L534.10,378.05L532.00,374.15Z"/><path d="M534.10,376.85L538.30,376.85L536.20,372.95Z"/><path d="M513.60,381.95L517.80,381.95L515.70,378.05Z"/><path d="M534.10,383.05L538.30,383.05L536.20,379.15Z"/><path d="M539.80,383.05L544.00,383.05L541.90,379.15Z"/><path d="M521.40,386.15L525.60,386.15L523.50,382.25Z"/><path d="M534.90,387.25L539.10,387.25L537.00,383.35Z"/><path d="M551.80,388.15L556.00,388.15L553.90,384.25Z"/><path d="M522.20,390.35L526.40,390.35L524.30,386.45Z"/><path d="M531.60,393.15L535.80,393.15L533.70,389.25Z"/><path d="M536.40,392.25L540.60,392.25L538.50,388.35Z"/><path d="M525.10,398.85L529.30,398.85L527.20,394.95Z"/><path d="M531.00,399.95L535.20,399.95L533.10,396.05Z"/><path d="M535.30,402.75L539.50,402.75L537.40,398.85Z"/><path d="M527.10,403.55L531.30,403.55L529.20,399.65Z"/><path d="M530.10,405.55L534.30,405.55L532.20,401.65Z"/><path d="M522.00,406.15L526.20,406.15L524.10,402.25Z"/><path d="M509.90,410.05L514.10,410.05L512.00,406.15Z"/><path d="M528.30,440.05L532.50,440.05L530.40,436.15Z"/><path d="M531.80,444.75L536.00,444.75L533.90,440.85Z"/><path d="M544.70,450.25L548.90,450.25L546.80,446.35Z"/></g>
<rect x="469.30" y="76.30" width="3.2" height="3.2" fill="#6c6c6c" stroke="#444" stroke-width="0.4"/>
<rect x="479.60" y="123.40" width="3.2" height="3.2" fill="#6c6c6c" stroke="#444" stroke-width="0.4"/>
<rect x="90.50" y="380.80" width="3.2" height="3.2" fill="#6c6c6c" stroke="#444" stroke-width="0.4"/>
<rect x="499.40" y="352.30" width="3.2" height="3.2" fill="#6c6c6c" stroke="#444" stroke-width="0.4"/>
<rect x="498.20" y="386.30" width="3.2" height="3.2" fill="#6c6c6c" stroke="#444" stroke-width="0.4"/>
<circle cx="206.6" cy="361.5" r="3.1" fill="#f4e2f6" stroke="#d462da" stroke-width="1.05"/><circle cx="206.6" cy="361.5" r="1.65" fill="#6ccfae" stroke="#2f4a56" stroke-width="0.6"/>
<circle cx="213.7" cy="363.3" r="3.1" fill="#f4e2f6" stroke="#d462da" stroke-width="1.05"/><circle cx="213.7" cy="363.3" r="1.65" fill="#6ccfae" stroke="#2f4a56" stroke-width="0.6"/>
<circle cx="199.2" cy="376.4" r="3.1" fill="#f4e2f6" stroke="#d462da" stroke-width="1.05"/><circle cx="199.2" cy="376.4" r="1.65" fill="#6ccfae" stroke="#2f4a56" stroke-width="0.6"/>
<circle cx="205.0" cy="376.3" r="3.1" fill="#f4e2f6" stroke="#d462da" stroke-width="1.05"/><circle cx="205.0" cy="376.3" r="1.65" fill="#6ccfae" stroke="#2f4a56" stroke-width="0.6"/>
<circle cx="198.4" cy="382.2" r="3.1" fill="#f4e2f6" stroke="#d462da" stroke-width="1.05"/><circle cx="198.4" cy="382.2" r="1.65" fill="#6ccfae" stroke="#2f4a56" stroke-width="0.6"/>
<circle cx="194.2" cy="387.4" r="3.1" fill="#f4e2f6" stroke="#d462da" stroke-width="1.05"/><circle cx="194.2" cy="387.4" r="1.65" fill="#6ccfae" stroke="#2f4a56" stroke-width="0.6"/>
<circle cx="202.2" cy="386.6" r="3.1" fill="#f4e2f6" stroke="#d462da" stroke-width="1.05"/><circle cx="202.2" cy="386.6" r="1.65" fill="#6ccfae" stroke="#2f4a56" stroke-width="0.6"/>
<circle cx="617.9" cy="161.7" r="3.1" fill="#f4e2f6" stroke="#d462da" stroke-width="1.05"/><rect x="616.45" y="160.25" width="2.9" height="2.9" fill="#4a4a4a" stroke="#333" stroke-width="0.3"/>
<circle cx="288.9" cy="466.5" r="3.1" fill="#f4e2f6" stroke="#d462da" stroke-width="1.05"/><rect x="287.45" y="465.05" width="2.9" height="2.9" fill="#4a4a4a" stroke="#333" stroke-width="0.3"/>
<circle cx="592.6" cy="390.4" r="3.1" fill="#f4e2f6" stroke="#d462da" stroke-width="1.05"/><circle cx="592.6" cy="390.4" r="1.65" fill="#6ccfae" stroke="#2f4a56" stroke-width="0.6"/>
<circle cx="624.2" cy="385.2" r="3.1" fill="#f4e2f6" stroke="#d462da" stroke-width="1.05"/><rect x="622.75" y="383.75" width="2.9" height="2.9" fill="#4a4a4a" stroke="#333" stroke-width="0.3"/>
<line x1="206.9" y1="382.4" x2="229.30" y2="393.55" stroke="#2ea4bc" stroke-width="1.15"/><path d="M225.42,394.19L230.20,394.00L227.47,390.07" fill="none" stroke="#2ea4bc" stroke-width="1.15"/>
<line x1="286.7" y1="462.6" x2="264.57" y2="430.72" stroke="#6e6e6e" stroke-width="1.15"/><path d="M268.28,432.04L264.00,429.90L264.51,434.66" fill="none" stroke="#6e6e6e" stroke-width="1.15"/>
<line x1="594" y1="394.2" x2="607.33" y2="408.86" stroke="#2ea4bc" stroke-width="1.15"/><path d="M603.47,408.04L608.00,409.60L606.88,404.95" fill="none" stroke="#2ea4bc" stroke-width="1.15"/>
<line x1="624.4" y1="390.4" x2="612.74" y2="408.76" stroke="#6e6e6e" stroke-width="1.15"/><path d="M612.51,404.82L612.20,409.60L616.39,407.29" fill="none" stroke="#6e6e6e" stroke-width="1.15"/>
<text x="18.4" y="20.4" font-family="Liberation Sans, sans-serif" font-size="19" font-weight="bold" fill="#000" stroke="#000" stroke-width="0.45" textLength="12.0" lengthAdjust="spacingAndGlyphs">A</text>
<text x="348.3" y="21.6" font-family="Liberation Sans, sans-serif" font-size="19" font-weight="bold" fill="#000" stroke="#000" stroke-width="0.45" textLength="10.6" lengthAdjust="spacingAndGlyphs">B</text>
<text x="17.7" y="291.3" font-family="Liberation Sans, sans-serif" font-size="19" font-weight="bold" fill="#000" stroke="#000" stroke-width="0.45" textLength="10.8" lengthAdjust="spacingAndGlyphs">C</text>
<text x="349.6" y="290.4" font-family="Liberation Sans, sans-serif" font-size="19" font-weight="bold" fill="#000" stroke="#000" stroke-width="0.45" textLength="11.6" lengthAdjust="spacingAndGlyphs">D</text>
<text x="60.2" y="71.7" font-family="Liberation Sans, sans-serif" font-size="9.8" fill="#3030b0" stroke="#3030b0" stroke-width="0.28" font-weight="normal" textLength="50.2" lengthAdjust="spacingAndGlyphs">Runner-886</text>
<text x="62.5" y="84.7" font-family="Liberation Sans, sans-serif" font-size="9.8" fill="#3030b0" stroke="#3030b0" stroke-width="0.28" textLength="4.9" lengthAdjust="spacingAndGlyphs">F</text><text x="67.00" y="86.70" font-family="Liberation Sans, sans-serif" font-size="6.47" fill="#3030b0" stroke="#3030b0" stroke-width="0.22">2</text><text x="72.70" y="84.7" font-family="Liberation Sans, sans-serif" font-size="9.8" fill="#3030b0" stroke="#3030b0" stroke-width="0.28" textLength="35.50" lengthAdjust="spacingAndGlyphs">progeny</text>
<text x="173" y="176.3" font-family="Liberation Sans, sans-serif" font-size="9.8" fill="#9c9774" stroke="#9c9774" stroke-width="0.28" textLength="4.9" lengthAdjust="spacingAndGlyphs">F</text><text x="177.50" y="178.30" font-family="Liberation Sans, sans-serif" font-size="6.47" fill="#9c9774" stroke="#9c9774" stroke-width="0.22">2</text><text x="183.20" y="176.3" font-family="Liberation Sans, sans-serif" font-size="9.8" fill="#9c9774" stroke="#9c9774" stroke-width="0.28" textLength="35.00" lengthAdjust="spacingAndGlyphs">progeny</text>
<text x="275.3" y="167" font-family="Liberation Sans, sans-serif" font-size="9.8" fill="#d8303a" stroke="#d8303a" stroke-width="0.28" font-weight="normal" textLength="37.7" lengthAdjust="spacingAndGlyphs">Batsten1</text>
<text x="272.3" y="179.5" font-family="Liberation Sans, sans-serif" font-size="9.8" fill="#d8303a" stroke="#d8303a" stroke-width="0.28" textLength="4.9" lengthAdjust="spacingAndGlyphs">F</text><text x="276.80" y="181.50" font-family="Liberation Sans, sans-serif" font-size="6.47" fill="#d8303a" stroke="#d8303a" stroke-width="0.22">2</text><text x="282.50" y="179.5" font-family="Liberation Sans, sans-serif" font-size="9.8" fill="#d8303a" stroke="#d8303a" stroke-width="0.28" textLength="35.50" lengthAdjust="spacingAndGlyphs">progeny</text>
<text x="126.4" y="247.3" font-family="Liberation Sans, sans-serif" font-size="9.6" fill="#1c1c1c" stroke="#1c1c1c" stroke-width="0.28" font-weight="normal" textLength="79.4" lengthAdjust="spacingAndGlyphs">A01_773107_Sten</text>
<text x="363.4" y="99.1" font-family="Liberation Sans, sans-serif" font-size="9.8" fill="#3030b0" stroke="#3030b0" stroke-width="0.28" font-weight="normal" textLength="50.0" lengthAdjust="spacingAndGlyphs">Runner-886</text>
<text x="366.5" y="111.6" font-family="Liberation Sans, sans-serif" font-size="9.8" fill="#3030b0" stroke="#3030b0" stroke-width="0.28" textLength="4.9" lengthAdjust="spacingAndGlyphs">F</text><text x="371.00" y="113.60" font-family="Liberation Sans, sans-serif" font-size="6.47" fill="#3030b0" stroke="#3030b0" stroke-width="0.22">2</text><text x="376.70" y="111.6" font-family="Liberation Sans, sans-serif" font-size="9.8" fill="#3030b0" stroke="#3030b0" stroke-width="0.28" textLength="34.80" lengthAdjust="spacingAndGlyphs">progeny</text>
<text x="427.7" y="47.3" font-family="Liberation Sans, sans-serif" font-size="9.8" fill="#9c9774" stroke="#9c9774" stroke-width="0.28" textLength="4.9" lengthAdjust="spacingAndGlyphs">F</text><text x="432.20" y="49.30" font-family="Liberation Sans, sans-serif" font-size="6.47" fill="#9c9774" stroke="#9c9774" stroke-width="0.22">2</text><text x="437.90" y="47.3" font-family="Liberation Sans, sans-serif" font-size="9.8" fill="#9c9774" stroke="#9c9774" stroke-width="0.28" textLength="35.00" lengthAdjust="spacingAndGlyphs">progeny</text>
<text x="510.1" y="48.8" font-family="Liberation Sans, sans-serif" font-size="9.8" fill="#d8303a" stroke="#d8303a" stroke-width="0.28" font-weight="normal" textLength="37.7" lengthAdjust="spacingAndGlyphs">Batsten1</text>
<text x="508" y="61" font-family="Liberation Sans, sans-serif" font-size="9.8" fill="#d8303a" stroke="#d8303a" stroke-width="0.28" textLength="4.9" lengthAdjust="spacingAndGlyphs">F</text><text x="512.50" y="63.00" font-family="Liberation Sans, sans-serif" font-size="6.47" fill="#d8303a" stroke="#d8303a" stroke-width="0.22">2</text><text x="518.20" y="61" font-family="Liberation Sans, sans-serif" font-size="9.8" fill="#d8303a" stroke="#d8303a" stroke-width="0.28" textLength="34.80" lengthAdjust="spacingAndGlyphs">progeny</text>
<text x="595.7" y="175.4" font-family="Liberation Sans, sans-serif" font-size="9.8" fill="#858585" stroke="#858585" stroke-width="0.28" font-weight="normal" textLength="45.3" lengthAdjust="spacingAndGlyphs">Product of</text>
<text x="595.3" y="188.6" font-family="Liberation Sans, sans-serif" font-size="9.8" fill="#858585" stroke="#858585" stroke-width="0.28" font-weight="normal" textLength="45.9" lengthAdjust="spacingAndGlyphs">tetrasomic</text>
<text x="586.8" y="201.2" font-family="Liberation Sans, sans-serif" font-size="9.8" fill="#858585" stroke="#858585" stroke-width="0.28" font-weight="normal" textLength="62.7" lengthAdjust="spacingAndGlyphs">recombination</text>
<text x="463.7" y="248.1" font-family="Liberation Sans, sans-serif" font-size="9.6" fill="#1c1c1c" stroke="#1c1c1c" stroke-width="0.28" font-weight="normal" textLength="79.1" lengthAdjust="spacingAndGlyphs">A04_186370_Sten</text>
<text x="103.9" y="312.8" font-family="Liberation Sans, sans-serif" font-size="9.8" fill="#9c9774" stroke="#9c9774" stroke-width="0.28" textLength="4.9" lengthAdjust="spacingAndGlyphs">F</text><text x="108.40" y="314.80" font-family="Liberation Sans, sans-serif" font-size="6.47" fill="#9c9774" stroke="#9c9774" stroke-width="0.22">2</text><text x="114.10" y="312.8" font-family="Liberation Sans, sans-serif" font-size="9.8" fill="#9c9774" stroke="#9c9774" stroke-width="0.28" textLength="35.10" lengthAdjust="spacingAndGlyphs">progeny</text>
<text x="165.2" y="436.4" font-family="Liberation Sans, sans-serif" font-size="9.8" fill="#d8303a" stroke="#d8303a" stroke-width="0.28" font-weight="normal" textLength="40.1" lengthAdjust="spacingAndGlyphs">Batsten1,</text>
<text x="164.3" y="449.2" font-family="Liberation Sans, sans-serif" font-size="9.8" fill="#d8303a" stroke="#d8303a" stroke-width="0.28" textLength="4.9" lengthAdjust="spacingAndGlyphs">F</text><text x="168.80" y="451.20" font-family="Liberation Sans, sans-serif" font-size="6.47" fill="#d8303a" stroke="#d8303a" stroke-width="0.22">2</text><text x="174.50" y="449.2" font-family="Liberation Sans, sans-serif" font-size="9.8" fill="#d8303a" stroke="#d8303a" stroke-width="0.28" textLength="34.50" lengthAdjust="spacingAndGlyphs">progeny</text>
<text x="34.9" y="497.6" font-family="Liberation Sans, sans-serif" font-size="9.8" fill="#3030b0" stroke="#3030b0" stroke-width="0.28" font-weight="normal" textLength="50.4" lengthAdjust="spacingAndGlyphs">Runner-886</text>
<text x="37.9" y="510.4" font-family="Liberation Sans, sans-serif" font-size="9.8" fill="#3030b0" stroke="#3030b0" stroke-width="0.28" textLength="4.9" lengthAdjust="spacingAndGlyphs">F</text><text x="42.40" y="512.40" font-family="Liberation Sans, sans-serif" font-size="6.47" fill="#3030b0" stroke="#3030b0" stroke-width="0.22">2</text><text x="48.10" y="510.4" font-family="Liberation Sans, sans-serif" font-size="9.8" fill="#3030b0" stroke="#3030b0" stroke-width="0.28" textLength="34.80" lengthAdjust="spacingAndGlyphs">progeny</text>
<text x="232.7" y="400.5" font-family="Liberation Sans, sans-serif" font-size="9.8" fill="#858585" stroke="#858585" stroke-width="0.28" font-weight="normal" textLength="48.9" lengthAdjust="spacingAndGlyphs">Products of</text>
<text x="233.9" y="413.3" font-family="Liberation Sans, sans-serif" font-size="9.8" fill="#858585" stroke="#858585" stroke-width="0.28" font-weight="normal" textLength="46" lengthAdjust="spacingAndGlyphs">tetrasomic</text>
<text x="226" y="426.3" font-family="Liberation Sans, sans-serif" font-size="9.8" fill="#858585" stroke="#858585" stroke-width="0.28" font-weight="normal" textLength="63.2" lengthAdjust="spacingAndGlyphs">recombination</text>
<text x="122.9" y="518.9" font-family="Liberation Sans, sans-serif" font-size="9.6" fill="#1c1c1c" stroke="#1c1c1c" stroke-width="0.28" font-weight="normal" textLength="91.1" lengthAdjust="spacingAndGlyphs">A05_14070271_Sten</text>
<text x="359.9" y="366.8" font-family="Liberation Sans, sans-serif" font-size="9.8" fill="#3030b0" stroke="#3030b0" stroke-width="0.28" font-weight="normal" textLength="50.4" lengthAdjust="spacingAndGlyphs">Runner-886</text>
<text x="362.5" y="379.7" font-family="Liberation Sans, sans-serif" font-size="9.8" fill="#3030b0" stroke="#3030b0" stroke-width="0.28" textLength="4.9" lengthAdjust="spacingAndGlyphs">F</text><text x="367.00" y="381.70" font-family="Liberation Sans, sans-serif" font-size="6.47" fill="#3030b0" stroke="#3030b0" stroke-width="0.22">2</text><text x="372.70" y="379.7" font-family="Liberation Sans, sans-serif" font-size="9.8" fill="#3030b0" stroke="#3030b0" stroke-width="0.28" textLength="34.80" lengthAdjust="spacingAndGlyphs">progeny</text>
<text x="443.4" y="332.5" font-family="Liberation Sans, sans-serif" font-size="9.8" fill="#9c9774" stroke="#9c9774" stroke-width="0.28" textLength="4.9" lengthAdjust="spacingAndGlyphs">F</text><text x="447.90" y="334.50" font-family="Liberation Sans, sans-serif" font-size="6.47" fill="#9c9774" stroke="#9c9774" stroke-width="0.22">2</text><text x="453.60" y="332.5" font-family="Liberation Sans, sans-serif" font-size="9.8" fill="#9c9774" stroke="#9c9774" stroke-width="0.28" textLength="34.70" lengthAdjust="spacingAndGlyphs">progeny</text>
<text x="510" y="308.2" font-family="Liberation Sans, sans-serif" font-size="9.8" fill="#d8303a" stroke="#d8303a" stroke-width="0.28" font-weight="normal" textLength="37.6" lengthAdjust="spacingAndGlyphs">Batsten1</text>
<text x="507.5" y="320.7" font-family="Liberation Sans, sans-serif" font-size="9.8" fill="#d8303a" stroke="#d8303a" stroke-width="0.28" textLength="4.9" lengthAdjust="spacingAndGlyphs">F</text><text x="512.00" y="322.70" font-family="Liberation Sans, sans-serif" font-size="6.47" fill="#d8303a" stroke="#d8303a" stroke-width="0.22">2</text><text x="517.70" y="320.7" font-family="Liberation Sans, sans-serif" font-size="9.8" fill="#d8303a" stroke="#d8303a" stroke-width="0.28" textLength="35.20" lengthAdjust="spacingAndGlyphs">progeny</text>
<text x="586" y="417" font-family="Liberation Sans, sans-serif" font-size="9.8" fill="#858585" stroke="#858585" stroke-width="0.28" font-weight="normal" textLength="49.1" lengthAdjust="spacingAndGlyphs">Products of</text>
<text x="587.6" y="429.7" font-family="Liberation Sans, sans-serif" font-size="9.8" fill="#858585" stroke="#858585" stroke-width="0.28" font-weight="normal" textLength="45.7" lengthAdjust="spacingAndGlyphs">tetrasomic</text>
<text x="578.9" y="442.3" font-family="Liberation Sans, sans-serif" font-size="9.8" fill="#858585" stroke="#858585" stroke-width="0.28" font-weight="normal" textLength="62.8" lengthAdjust="spacingAndGlyphs">recombination</text>
<text x="450.6" y="517.7" font-family="Liberation Sans, sans-serif" font-size="9.6" fill="#1c1c1c" stroke="#1c1c1c" stroke-width="0.28" font-weight="normal" textLength="95.2" lengthAdjust="spacingAndGlyphs">A04_119691567_Sten</text>
</svg></body></html>
